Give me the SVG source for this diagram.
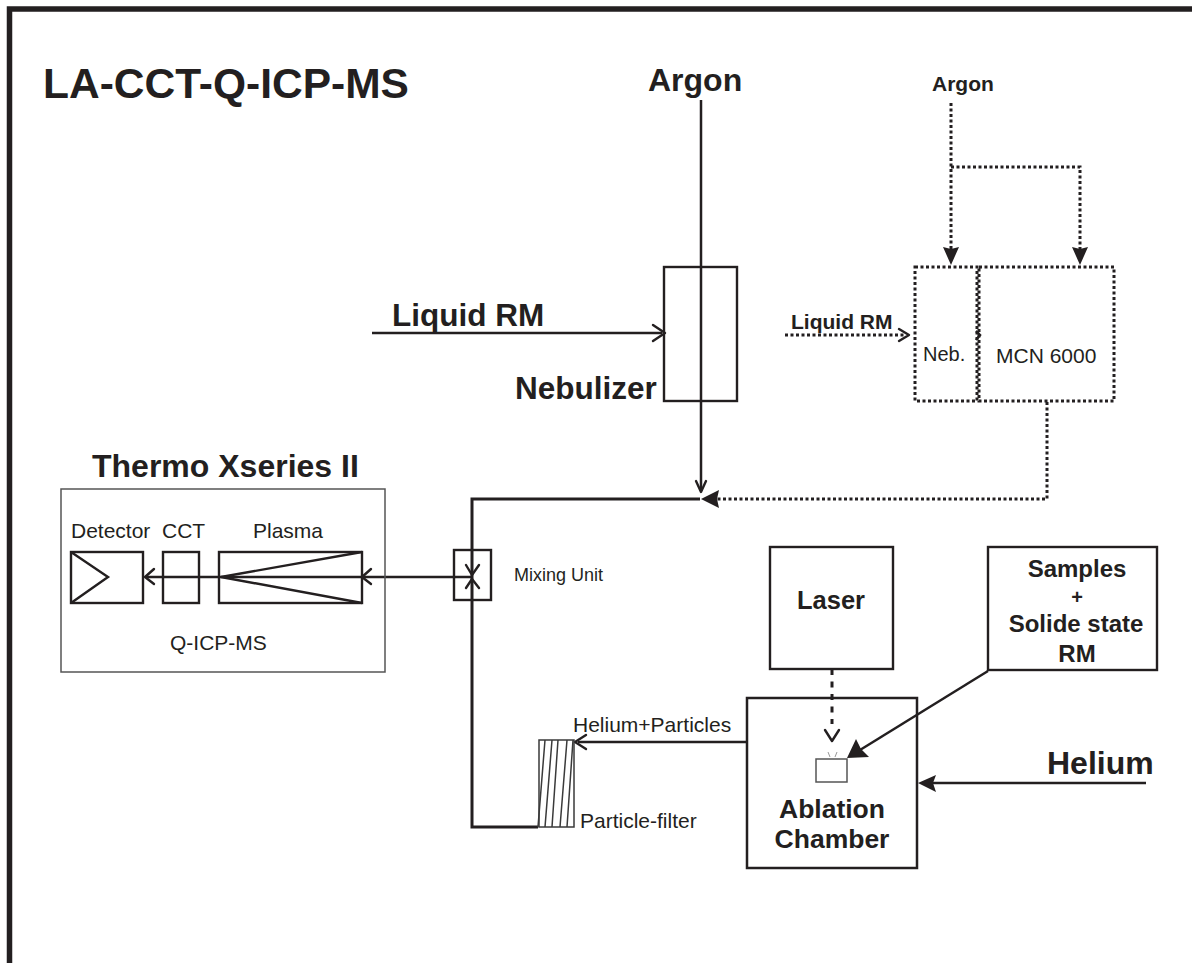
<svg xmlns="http://www.w3.org/2000/svg" width="1192" height="963" viewBox="0 0 1192 963">
<style>
text{font-family:"Liberation Sans",Arial,sans-serif;fill:#231f20}
.b{font-weight:bold}
.s{fill:none;stroke:#231f20;stroke-width:3}
.l{fill:none;stroke:#231f20;stroke-width:2.500}
.m{fill:none;stroke:#231f20;stroke-width:2.400}
.t{fill:none;stroke:#3a3a3a;stroke-width:1.500}
.d{fill:none;stroke:#231f20;stroke-width:3;stroke-dasharray:3 2.500}
.o{fill:none;stroke:#231f20;stroke-width:2.400;stroke-linecap:round;stroke-linejoin:round}
.h{fill:#231f20}
</style>
<rect width="1192" height="963" fill="#fff"/>
<path d="M9.500 963V9H1192" fill="none" stroke="#231f20" stroke-width="5.500"/>
<text x="43" y="98" font-size="42.500" class="b">LA-CCT-Q-ICP-MS</text>

<g id="connectors">
<path class="l" d="M701 100V491"/><path class="o" d="M696 481L701 492L706 481"/>
<path class="l" d="M372 333H662"/><path class="o" d="M653 325L665 333L653 341"/>
<path class="s" d="M700 499H472V827H538"/>
<path class="d" d="M951 103V250"/><path class="d" d="M951 167H1080V250"/>
<path class="h" d="M943 247L951 249L959 247L951 265Z"/><path class="h" d="M1072 247L1080 249L1088 247L1080 265Z"/>
<path class="d" d="M785 335H905"/><path class="o" d="M899 329L909 335L899 341"/>
<path class="d" d="M1047 402V499H715"/><path class="h" d="M719 490L717 499L719 508L701 499Z"/>
<path class="m" d="M146 577H472"/>
<path class="o" d="M154 569L145 577L154 584"/><path class="o" d="M371 569L362 577L371 584"/>
<path class="o" d="M466 565L472 575L479 565"/><path class="o" d="M466 588L472 579L479 588"/>
<path class="l" d="M748 742H578"/><path class="o" d="M586 735L575 742L586 749"/>
<path class="l" d="M1146 783H930"/><path class="h" d="M936 775L933 783L936 792L918 783Z"/>
<path class="l" d="M988 671L860 750"/><path class="h" d="M847 758L856 739L861 749L869 757Z"/>
<path class="s" d="M832 669V724" stroke-dasharray="6 6.500"/>
<path class="o" d="M825 730L832 741L839 730"/>
<path d="M828 752L830 757M837 752L835 757" stroke="#999" stroke-width="1" fill="none"/>
</g>

<g id="nebulizer">
<rect class="m" x="664" y="267" width="73" height="134"/>
<text x="515" y="399" font-size="31.500" class="b">Nebulizer</text>
</g>
<g id="argon-main"><text x="648" y="91" font-size="32" class="b">Argon</text></g>
<g id="liquid-rm-main"><text x="392" y="326" font-size="31.500" class="b">Liquid RM</text></g>
<g id="argon-small"><text x="932" y="91" font-size="21" class="b">Argon</text></g>
<g id="liquid-rm-small"><text x="791" y="329" font-size="21" class="b">Liquid RM</text></g>
<g id="neb">
<rect class="d" x="915" y="267" width="62" height="134"/>
<text x="923" y="361" font-size="20">Neb.</text>
</g>
<g id="mcn6000">
<rect class="d" x="979" y="267" width="135" height="134"/>
<path d="M976 331L980 335L976 340" stroke="#231f20" stroke-width="2.500" fill="none"/>
<text x="996" y="363" font-size="21">MCN 6000</text>
</g>

<g id="thermo">
<rect x="61" y="489" width="324" height="183" fill="none" stroke="#555" stroke-width="1.500"/>
<text x="92" y="477" font-size="32" class="b">Thermo Xseries II</text>
<text x="170" y="650" font-size="21">Q-ICP-MS</text>
</g>
<g id="detector">
<rect class="m" x="71" y="552" width="72" height="51"/>
<path class="m" d="M71 552L108 577L71 603"/>
<text x="71" y="538" font-size="21">Detector</text>
</g>
<g id="cct">
<rect class="m" x="163" y="552" width="36" height="51"/>
<text x="162" y="538" font-size="21">CCT</text>
</g>
<g id="plasma">
<rect class="m" x="219" y="552" width="143" height="51"/>
<path class="m" d="M362 552L221 577L362 603"/>
<text x="253" y="538" font-size="21">Plasma</text>
</g>

<g id="mixing-unit">
<rect class="m" x="454" y="550" width="37" height="50"/>
<text x="514" y="581" font-size="18">Mixing Unit</text>
</g>

<g id="particle-filter">
<rect class="t" x="539" y="740" width="35" height="87"/>
<path class="t" d="M538 827L545 740M545 827L552 740M552 827L558 740M560 827L567 740M567 827L573 740"/>
<text x="580" y="828" font-size="21">Particle-filter</text>
</g>
<g id="helium-particles"><text x="573" y="732" font-size="21">Helium+Particles</text></g>

<g id="laser">
<rect class="m" x="770" y="547" width="123" height="122"/>
<text x="797" y="609" font-size="25.500" class="b">Laser</text>
</g>
<g id="samples">
<rect class="m" x="988" y="547" width="169" height="123"/>
<g class="b" text-anchor="middle">
<text x="1077" y="577" font-size="24">Samples</text>
<text x="1077" y="604" font-size="20">+</text>
<text x="1076" y="632" font-size="24">Solide state</text>
<text x="1077" y="662" font-size="24">RM</text>
</g>
</g>
<g id="ablation-chamber">
<rect class="l" x="747" y="698" width="170" height="170"/>
<rect x="816" y="759" width="31" height="23" fill="#fff" stroke="#555" stroke-width="1.500"/>
<g font-size="26.500" class="b" text-anchor="middle">
<text x="832" y="818">Ablation</text>
<text x="832" y="848">Chamber</text>
</g>
</g>
<g id="helium"><text x="1047" y="774" font-size="32" class="b">Helium</text></g>
</svg>
